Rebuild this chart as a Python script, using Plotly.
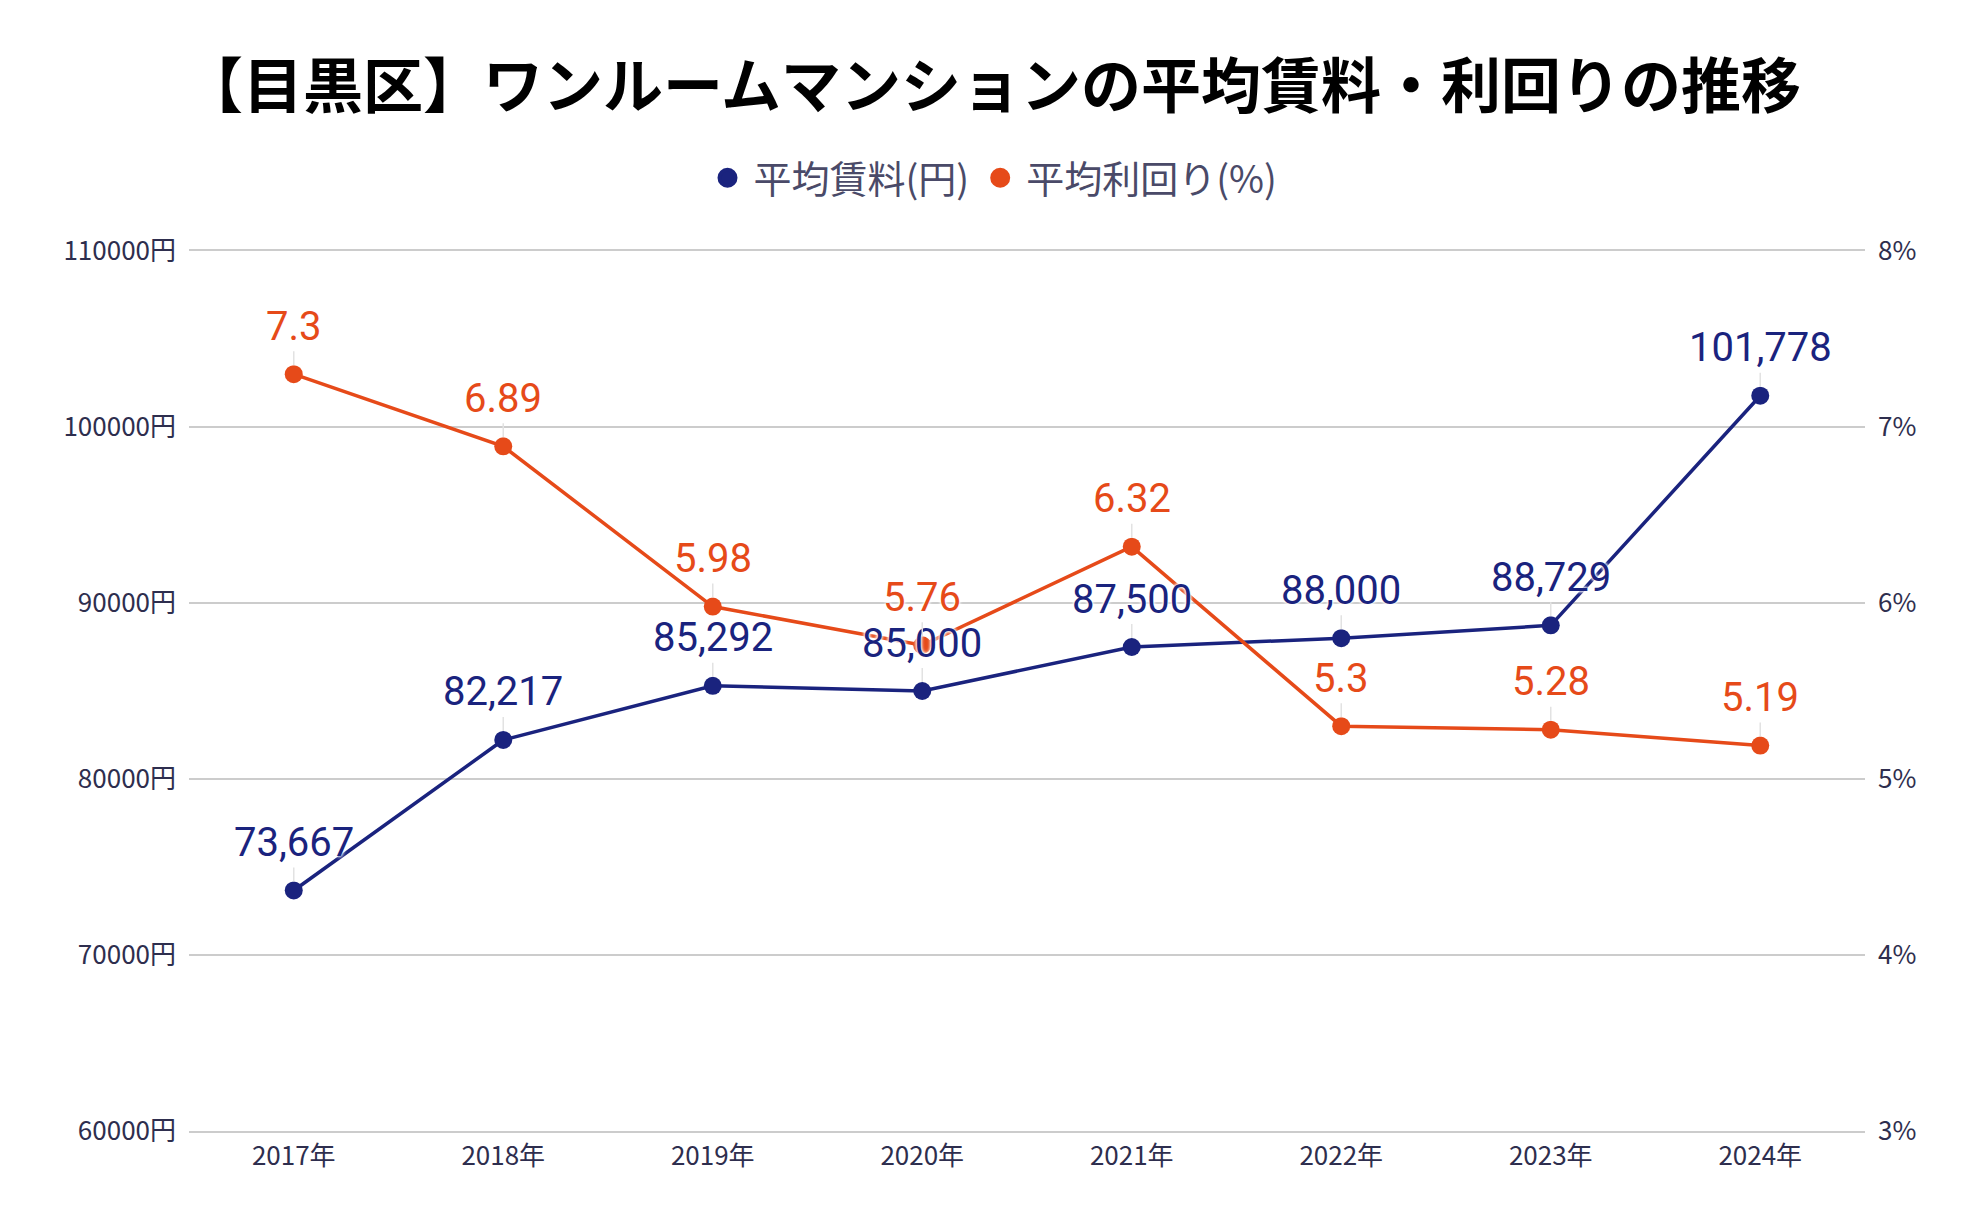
import plotly.graph_objects as go

years = ["2017年", "2018年", "2019年", "2020年", "2021年", "2022年", "2023年", "2024年"]
rent = [73667, 82217, 85292, 85000, 87500, 88000, 88729, 101778]
yield_pct = [7.3, 6.89, 5.98, 5.76, 6.32, 5.3, 5.28, 5.19]

rent_name = "平均賃料(円)"
yield_name = "平均利回り(%)"
title_text = "【目黒区】ワンルームマンションの平均賃料・利回りの推移"

NAVY = "#1A237E"
ORANGE = "#E64A19"
TICK_COLOR = "#2E2E4E"
GRID = "#cccccc"
CJK = "Noto Sans CJK JP"

fig = go.Figure()

fig.add_trace(go.Scatter(
    x=years, y=rent, mode="lines+markers", name=rent_name, showlegend=False,
    line=dict(color=NAVY, width=3.5), marker=dict(color=NAVY, size=18), yaxis="y",
))
fig.add_trace(go.Scatter(
    x=years, y=yield_pct, mode="lines+markers", name=yield_name, showlegend=False,
    line=dict(color=ORANGE, width=3.5), marker=dict(color=ORANGE, size=18), yaxis="y2",
))
# legend-only entries (circle markers)
fig.add_trace(go.Scatter(x=[None], y=[None], mode="markers", name=rent_name,
                         marker=dict(color=NAVY, size=16, line=dict(color=NAVY, width=4))))
fig.add_trace(go.Scatter(x=[None], y=[None], mode="markers", name=yield_name,
                         marker=dict(color=ORANGE, size=16, line=dict(color=ORANGE, width=4)),
                         yaxis="y2"))

halo = "0 0 3px white, 0 0 3px white, 0 0 4px white"
annotations = []
for x, v in zip(years, rent):
    annotations.append(dict(
        x=x, y=v, xref="x", yref="y", text=f"{v:,}", showarrow=True,
        arrowhead=0, arrowwidth=1.5, arrowcolor="#e2e2e2", ax=0, ay=-48, standoff=9,
        font=dict(family="Roboto", size=40, color=NAVY, shadow=halo),
    ))
for x, v in zip(years, yield_pct):
    annotations.append(dict(
        x=x, y=v, xref="x", yref="y2", text=str(v), showarrow=True,
        arrowhead=0, arrowwidth=1.5, arrowcolor="#e2e2e2", ax=0, ay=-48, standoff=9,
        font=dict(family="Roboto", size=40, color=ORANGE, shadow=halo),
    ))

fig.update_layout(
    width=1984, height=1228,
    paper_bgcolor="white", plot_bgcolor="white",
    margin=dict(l=189, r=119, t=251, b=97),
    title=dict(text=title_text, x=0.5, xanchor="center", xref="container",
               y=1 - 87 / 1228, yanchor="middle", yref="container",
               font=dict(family=CJK, size=60, color="black", weight=700)),
    legend=dict(orientation="h", xref="container", x=0.5, xanchor="center",
                yref="container", y=1 - 178 / 1228, yanchor="middle",
                font=dict(family=CJK, size=38, color="#4A4A68"),
                itemsizing="trace", itemwidth=42, traceorder="normal"),
    xaxis=dict(type="category", range=[-0.5, len(years) - 0.5], showgrid=False,
               showline=True, mirror=True, linecolor=GRID, linewidth=1.6, zeroline=False,
               tickfont=dict(family=CJK, size=26, color=TICK_COLOR),
               ticks="", ticklabelstandoff=1),
    yaxis=dict(range=[60000, 110000], dtick=10000, tickformat="d", ticksuffix="円",
               showgrid=True, gridcolor=GRID, gridwidth=1.6, zeroline=False,
               showline=False, ticks="", ticklabelstandoff=12,
               tickfont=dict(family=CJK, size=26, color=TICK_COLOR)),
    yaxis2=dict(range=[3, 8], dtick=1, ticksuffix="%", overlaying="y", side="right",
                showgrid=False, zeroline=False, showline=False, ticks="",
                ticklabelstandoff=12,
                tickfont=dict(family=CJK, size=26, color=TICK_COLOR)),
    annotations=annotations,
    hovermode=False,
)

fig.write_html("out.html", config={"displayModeBar": False},
               post_script="document.body.style.margin='0';document.body.style.overflow='hidden';")
